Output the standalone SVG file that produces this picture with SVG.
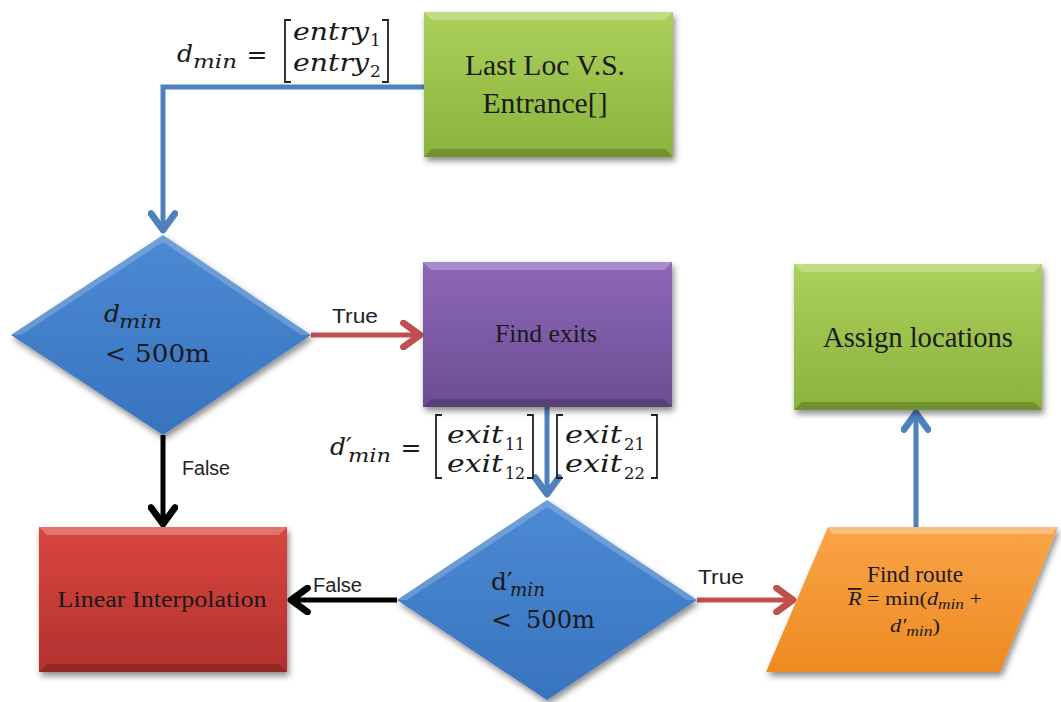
<svg xmlns="http://www.w3.org/2000/svg" width="1061" height="702" viewBox="0 0 1061 702">
<style>
.box{font-family:"Liberation Serif",serif;fill:#1a1a1a;text-anchor:middle}
.lbl{font-family:"Liberation Sans",sans-serif;font-size:20px;fill:#222}
.mi{font-family:"DejaVu Serif",serif;font-style:italic;font-size:25px;fill:#1a1a1a}
.ms{font-family:"DejaVu Serif",serif;font-style:italic;font-size:18px;fill:#1a1a1a}
.mn{font-family:"DejaVu Serif",serif;font-size:17px;fill:#1a1a1a}
.up{font-family:"DejaVu Serif",serif;font-size:25px;fill:#1a1a1a}
.bk{fill:none;stroke:#222;stroke-width:1.8}
.cb{fill:none;stroke:#4f81bd;stroke-width:5}
.cr{fill:none;stroke:#c0504d;stroke-width:5}
.ck{fill:none;stroke:#000;stroke-width:5}
.bev{fill:#fff;opacity:.25}
.bevd{fill:#000;opacity:.18}
</style>
<defs>
<filter id="sh" x="-10%" y="-10%" width="125%" height="130%">
<feDropShadow dx="2" dy="4" stdDeviation="3" flood-color="#000" flood-opacity="0.45"/>
</filter>
<linearGradient id="gG" x1="0" y1="0" x2="0" y2="1"><stop offset="0" stop-color="#abd15c"/><stop offset="1" stop-color="#8bb23c"/></linearGradient>
<linearGradient id="gP" x1="0" y1="0" x2="0" y2="1"><stop offset="0" stop-color="#8d68b8"/><stop offset="1" stop-color="#6c4d93"/></linearGradient>
<linearGradient id="gR" x1="0" y1="0" x2="0" y2="1"><stop offset="0" stop-color="#d9463f"/><stop offset="1" stop-color="#b2312e"/></linearGradient>
<linearGradient id="gO" x1="0" y1="0" x2="0" y2="1"><stop offset="0" stop-color="#f9a447"/><stop offset="1" stop-color="#ee8a22"/></linearGradient>
<linearGradient id="gB" x1="0" y1="0" x2="0" y2="1"><stop offset="0" stop-color="#4c8ad2"/><stop offset="1" stop-color="#3874c0"/></linearGradient>
<marker id="aB" markerUnits="userSpaceOnUse" markerWidth="30" markerHeight="30" refX="14" refY="10" orient="auto" viewBox="0 0 20 20"><path d="M3,2 L14,10 L3,18" fill="none" stroke="#4f81bd" stroke-width="4.5" stroke-linecap="round" stroke-linejoin="round"/></marker>
<marker id="aR" markerUnits="userSpaceOnUse" markerWidth="30" markerHeight="30" refX="14" refY="10" orient="auto" viewBox="0 0 20 20"><path d="M3,2 L14,10 L3,18" fill="none" stroke="#c0504d" stroke-width="4.5" stroke-linecap="round" stroke-linejoin="round"/></marker>
<marker id="aK" markerUnits="userSpaceOnUse" markerWidth="30" markerHeight="30" refX="14" refY="10" orient="auto" viewBox="0 0 20 20"><path d="M3,2 L14,10 L3,18" fill="none" stroke="#000" stroke-width="4.5" stroke-linecap="round" stroke-linejoin="round"/></marker>
</defs>
<rect width="1061" height="702" fill="#fff"/>

<g id="connectors">
<path class="cb" d="M424,87 H163 V230" marker-end="url(#aB)"/>
<path class="cr" d="M311,335 H420" marker-end="url(#aR)"/>
<path class="cb" d="M547,407 V494" marker-end="url(#aB)"/>
<path class="ck" d="M163,435 V524" marker-end="url(#aK)"/>
<path class="ck" d="M397,600 H291" marker-end="url(#aK)"/>
<path class="cr" d="M697,600 H793" marker-end="url(#aR)"/>
<path class="cb" d="M916,527 V413" marker-end="url(#aB)"/>
<text class="lbl" x="332" y="323" textLength="46" lengthAdjust="spacingAndGlyphs">True</text>
<text class="lbl" x="182" y="475" textLength="48" lengthAdjust="spacingAndGlyphs">False</text>
<text class="lbl" x="313" y="592" textLength="49" lengthAdjust="spacingAndGlyphs">False</text>
<text class="lbl" x="698" y="584" textLength="46" lengthAdjust="spacingAndGlyphs">True</text>
</g>

<g id="formula1">
<text class="mi" x="177" y="62">d</text>
<text class="ms" x="193" y="68" textLength="44" lengthAdjust="spacingAndGlyphs">min</text>
<text class="up" x="257" y="63" text-anchor="middle">=</text>
<path class="bk" d="M291,20 H285 V82 H291"/>
<text class="mi" x="293" y="40" textLength="76" lengthAdjust="spacingAndGlyphs">entry</text>
<text class="mn" x="370" y="46">1</text>
<text class="mi" x="293" y="71" textLength="76" lengthAdjust="spacingAndGlyphs">entry</text>
<text class="mn" x="370" y="77">2</text>
<path class="bk" d="M382,20 H388 V82 H382"/>
</g>

<g id="formula2">
<text class="mi" x="330" y="455">d′</text>
<text class="ms" x="348" y="462" textLength="43" lengthAdjust="spacingAndGlyphs">min</text>
<text class="up" x="411" y="456" text-anchor="middle">=</text>
<path class="bk" d="M442,415 H436 V478 H442"/>
<text class="mi" x="447" y="443" textLength="56" lengthAdjust="spacingAndGlyphs">exit</text>
<text class="mn" x="505" y="450" textLength="20" lengthAdjust="spacingAndGlyphs">11</text>
<text class="mi" x="447" y="472" textLength="56" lengthAdjust="spacingAndGlyphs">exit</text>
<text class="mn" x="505" y="479" textLength="20" lengthAdjust="spacingAndGlyphs">12</text>
<path class="bk" d="M527,415 H533 V478 H527"/>
<path class="bk" d="M563,415 H557 V478 H563"/>
<text class="mi" x="565" y="443" textLength="57" lengthAdjust="spacingAndGlyphs">exit</text>
<text class="mn" x="624" y="450" textLength="21" lengthAdjust="spacingAndGlyphs">21</text>
<text class="mi" x="565" y="472" textLength="57" lengthAdjust="spacingAndGlyphs">exit</text>
<text class="mn" x="624" y="479" textLength="21" lengthAdjust="spacingAndGlyphs">22</text>
<path class="bk" d="M651,415 H657 V478 H651"/>
</g>

<g id="lastloc">
<rect x="424" y="12" width="249" height="145" fill="url(#gG)" filter="url(#sh)"/>
<path class="bev" d="M424,12 H673 L665,20 H432 Z"/>
<path class="bevd" d="M424,157 H673 L665,149 H432 Z"/>
<text class="box" x="545" y="75" font-size="29" textLength="160" lengthAdjust="spacingAndGlyphs">Last Loc V.S.</text>
<text class="box" x="545" y="113" font-size="29" textLength="125" lengthAdjust="spacingAndGlyphs">Entrance[]</text>
</g>

<g id="decision1">
<polygon points="163,235 311,335 163,435 11,335" fill="url(#gB)" filter="url(#sh)"/>
<polygon points="163,235 311,335 301,335 163,242 21,335 11,335" fill="#fff" opacity=".2"/>
<text class="mi" x="104" y="322">d</text>
<text class="ms" x="119" y="328" textLength="43" lengthAdjust="spacingAndGlyphs">min</text>
<text class="up" x="105" y="362" font-size="24">&lt;</text>
<text class="up" x="135" y="362" font-size="26" textLength="75" lengthAdjust="spacingAndGlyphs">500m</text>
</g>

<g id="findexits">
<rect x="423" y="262" width="249" height="145" fill="url(#gP)" filter="url(#sh)"/>
<path class="bev" d="M423,262 H672 L664,270 H431 Z"/>
<path class="bevd" d="M423,407 H672 L664,399 H431 Z"/>
<text class="box" x="546" y="342" font-size="26" textLength="102" lengthAdjust="spacingAndGlyphs">Find exits</text>
</g>

<g id="assign">
<rect x="794" y="264" width="248" height="146" fill="url(#gG)" filter="url(#sh)"/>
<path class="bev" d="M794,264 H1042 L1034,272 H802 Z"/>
<path class="bevd" d="M794,410 H1042 L1034,402 H802 Z"/>
<text class="box" x="918" y="347" font-size="29" textLength="190" lengthAdjust="spacingAndGlyphs">Assign locations</text>
</g>

<g id="linear">
<rect x="39" y="527" width="248" height="145" fill="url(#gR)" filter="url(#sh)"/>
<path class="bev" d="M39,527 H287 L279,535 H47 Z"/>
<path class="bevd" d="M39,672 H287 L279,664 H47 Z"/>
<text class="box" x="162" y="607" font-size="24" textLength="209" lengthAdjust="spacingAndGlyphs">Linear Interpolation</text>
</g>

<g id="decision2">
<polygon points="547,500 697,600 547,700 397,600" fill="url(#gB)" filter="url(#sh)"/>
<polygon points="547,500 697,600 687,600 547,507 407,600 397,600" fill="#fff" opacity=".2"/>
<text class="up" x="491" y="590">d′</text>
<text class="ms" x="510" y="596" textLength="35" lengthAdjust="spacingAndGlyphs">min</text>
<text class="up" x="491" y="628" font-size="24">&lt;</text>
<text class="up" x="526" y="628" font-size="25" textLength="69" lengthAdjust="spacingAndGlyphs">500m</text>
</g>

<g id="findroute">
<polygon points="828,527 1058,527 1000,672 766,672" fill="url(#gO)" filter="url(#sh)"/>
<polygon points="828,527 1058,527 1052,534 832,534" fill="#fff" opacity=".3"/>
<text class="box" x="915" y="582" font-size="23" textLength="96" lengthAdjust="spacingAndGlyphs">Find route</text>
<text x="848" y="605" font-family="Liberation Serif,serif" font-size="18" fill="#1a1a1a" textLength="134" lengthAdjust="spacingAndGlyphs"><tspan font-style="italic" text-decoration="overline">R</tspan> = min(<tspan font-style="italic">d<tspan font-size="14" dy="4">min</tspan></tspan><tspan dy="-4"> +</tspan></text>
<text x="890" y="632" font-family="Liberation Serif,serif" font-size="18" fill="#1a1a1a" textLength="50" lengthAdjust="spacingAndGlyphs"><tspan font-style="italic">d′<tspan font-size="14" dy="4">min</tspan></tspan><tspan dy="-4">)</tspan></text>
</g>
</svg>
